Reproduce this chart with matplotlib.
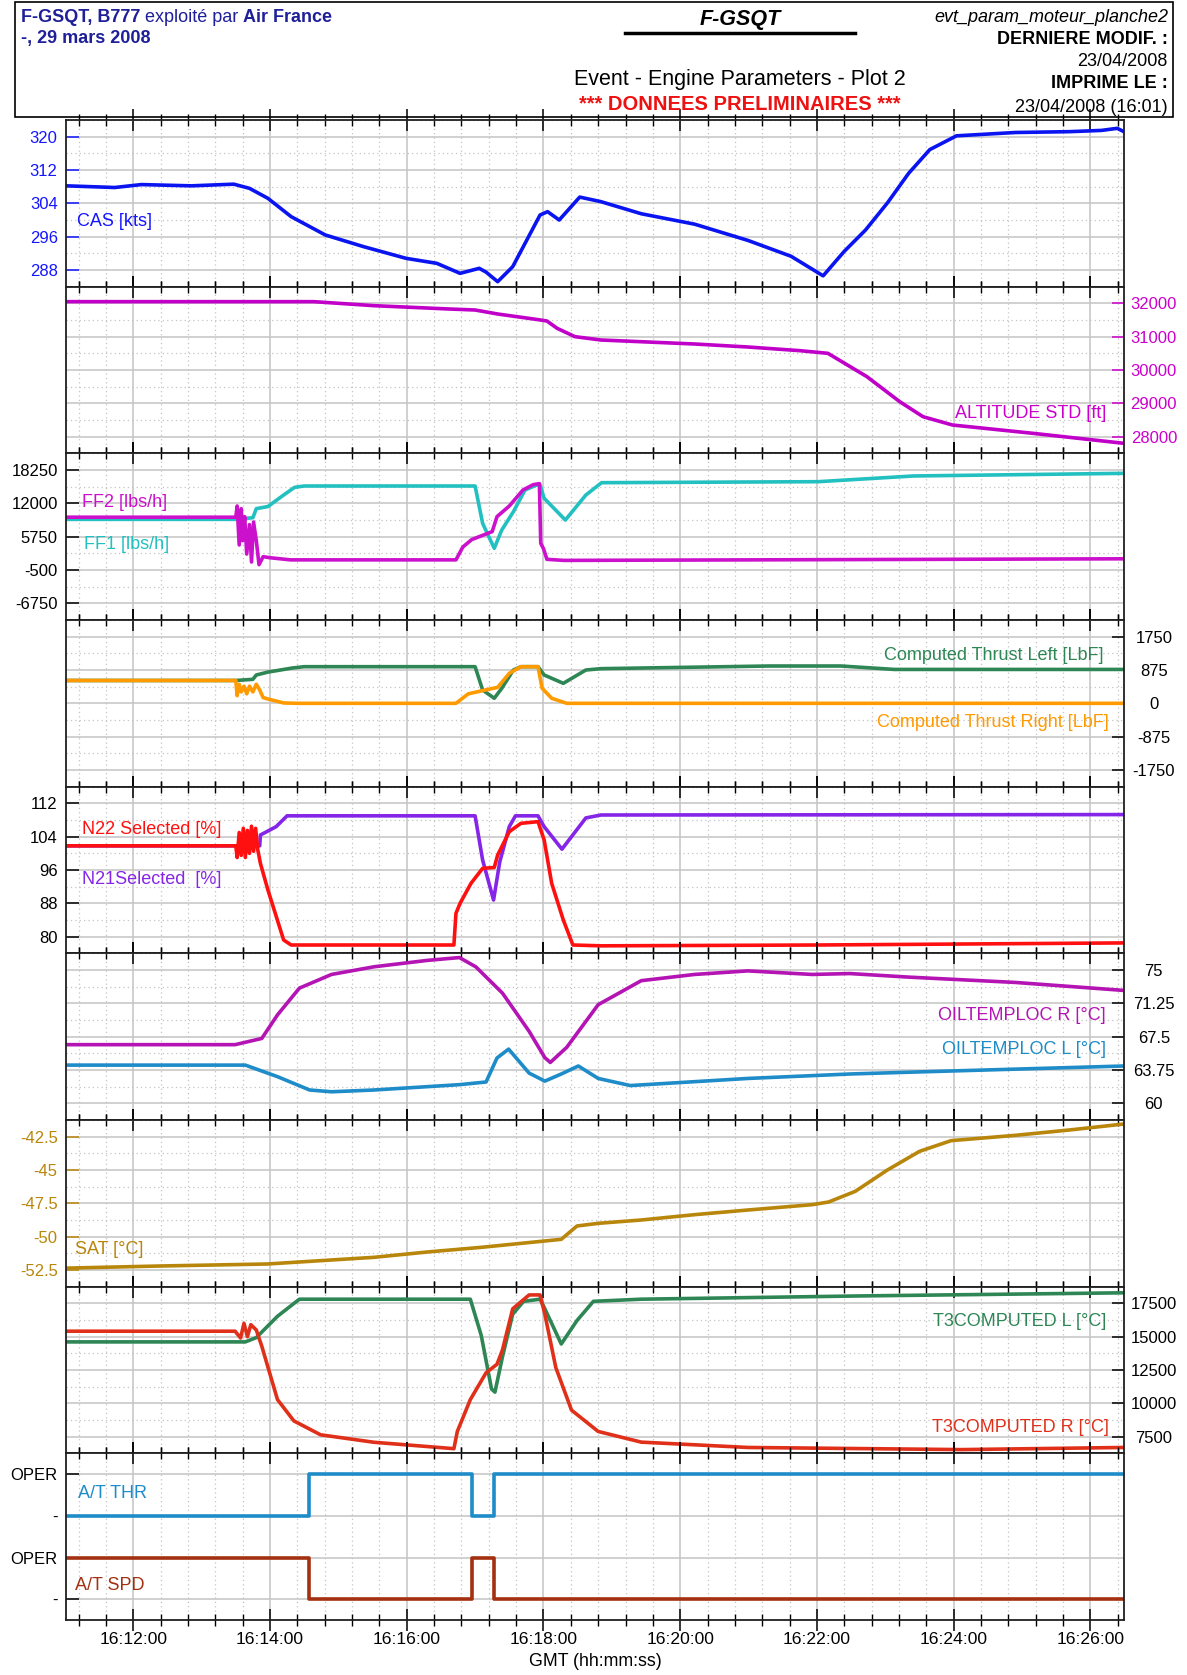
import matplotlib
matplotlib.use('Agg')
import matplotlib.pyplot as plt
from matplotlib.ticker import MultipleLocator, FuncFormatter
from matplotlib import font_manager
from matplotlib.patches import Rectangle
from matplotlib.lines import Line2D

names = {f.name for f in font_manager.fontManager.ttflist}
FONT = 'Liberation Sans' if 'Liberation Sans' in names else 'DejaVu Sans'
plt.rcParams['font.family'] = [FONT, 'DejaVu Sans']

# ---------------- data (time = minutes after 16:00 GMT) ----------------
cas_t = [11.02, 11.73, 12.12, 12.85, 13.47, 13.70, 13.97, 14.31, 14.81, 15.37, 15.99, 16.44,
         16.78, 17.06, 17.16, 17.33, 17.55, 17.95, 18.06, 18.23, 18.53, 18.84, 19.43, 20.21,
         20.99, 21.62, 22.09, 22.40, 22.71, 23.03, 23.34, 23.65, 24.04, 24.90, 25.69, 26.16,
         26.39, 26.49]
cas_v = [308.2, 307.8, 308.5, 308.2, 308.6, 307.6, 305.2, 300.8, 296.4, 293.6, 290.8, 289.6,
         287.2, 288.4, 287.5, 285.2, 288.8, 301.2, 302.0, 300.0, 305.5, 304.4, 301.5, 299.0,
         295.1, 291.3, 286.6, 292.5, 297.6, 304.1, 311.2, 316.9, 320.2, 321.0, 321.2, 321.5,
         322.0, 321.2]

alt_t = [11.02, 14.64, 15.52, 16.62, 17.00, 17.33, 17.89, 18.05, 18.20, 18.46, 18.84, 20.21,
         20.99, 21.75, 22.16, 22.73, 23.21, 23.55, 23.98, 25.16, 26.49]
alt_v = [32050, 32050, 31930, 31830, 31800, 31680, 31520, 31470, 31250, 31000, 30900, 30780,
         30690, 30580, 30500, 29800, 29050, 28600, 28350, 28100, 27800]

ff1_t = [11.02, 13.50, 13.75, 13.80, 13.97, 14.20, 14.36, 14.50, 17.00, 17.11, 17.28, 17.39,
         17.56, 17.73, 17.90, 17.95, 18.01, 18.32, 18.62, 18.85, 22.02, 23.41, 26.49]
ff1_v = [9000, 9000, 9300, 11000, 11400, 13560, 15000, 15250, 15250, 8250, 3570, 7000,
         10430, 14500, 15440, 15440, 12940, 8870, 13560, 15870, 16060, 17130, 17625]

ff2_t = [11.02, 13.50, 13.52, 13.55, 13.58, 13.60, 13.63, 13.66, 13.70, 13.73, 13.76, 13.80,
         13.84, 13.90, 14.00, 14.30, 16.72, 16.82, 16.95, 17.15, 17.25, 17.32, 17.50, 17.70,
         17.85, 17.94, 17.96, 18.00, 18.05, 18.30, 26.49]
ff2_v = [9400, 9400, 11500, 4200, 11000, 5000, 9500, 2500, 8000, 1000, 8500, 5000,
         500, 2000, 1800, 1400, 1400, 3800, 5200, 6200, 6700, 9500, 11500, 14500,
         15500, 15700, 4500, 3500, 1500, 1300, 1600]

thl_t = [11.02, 13.50, 13.75, 13.80, 13.97, 14.33, 14.50, 17.00, 17.11, 17.28, 17.39, 17.56,
         17.67, 17.92, 18.01, 18.29, 18.62, 18.84, 21.30, 22.35, 23.13, 26.49]
thl_v = [600, 600, 630, 744, 820, 928, 962, 962, 350, 133, 394, 875,
         962, 962, 744, 525, 875, 910, 980, 980, 890, 890]

thr_t = [11.02, 13.50, 13.52, 13.55, 13.58, 13.62, 13.66, 13.70, 13.75, 13.80, 13.85, 13.90,
         14.00, 14.20, 14.40, 16.72, 16.90, 17.10, 17.33, 17.50, 17.67, 17.92, 17.98, 18.12,
         18.34, 26.49]
thr_v = [600, 600, 200, 500, 300, 450, 250, 450, 300, 500, 350, 150,
         100, 10, 0, 0, 250, 330, 420, 788, 962, 962, 395, 133,
         0, 0]

n22_t = [11.02, 13.50, 13.52, 13.55, 13.58, 13.61, 13.64, 13.67, 13.70, 13.73, 13.76, 13.79,
         13.82, 13.86, 13.97, 14.20, 14.31, 16.69, 16.72, 16.78, 16.94, 17.11, 17.28, 17.33,
         17.50, 17.67, 17.92, 18.01, 18.12, 18.29, 18.43, 18.84, 22.00, 26.49]
n22_v = [101.8, 101.8, 99.0, 105.0, 99.5, 106.0, 99.0, 105.5, 100.0, 106.5, 100.5, 106.0,
         101.0, 97.6, 91.2, 79.2, 78.0, 78.0, 85.6, 88.0, 92.8, 96.4, 96.6, 99.6,
         105.2, 107.2, 107.6, 103.2, 92.8, 84.0, 78.0, 77.8, 78.0, 78.5]

n21_t = [11.02, 13.85, 13.86, 14.09, 14.25, 17.00, 17.11, 17.27, 17.36, 17.50, 17.59, 17.92,
         18.01, 18.27, 18.62, 18.84, 26.49]
n21_v = [101.8, 101.8, 104.4, 106.4, 109.0, 109.0, 98.4, 88.8, 97.9, 106.4, 109.0, 109.0,
         106.4, 101.0, 108.5, 109.2, 109.3]

oilr_t = [11.02, 13.49, 13.88, 14.11, 14.43, 14.90, 15.52, 16.30, 16.77, 17.01, 17.40, 17.79,
          18.02, 18.10, 18.34, 18.80, 19.43, 20.21, 20.99, 21.93, 22.48, 23.34, 24.90, 26.49]
oilr_v = [66.6, 66.6, 67.3, 69.95, 72.96, 74.5, 75.36, 76.08, 76.4, 75.36, 72.4, 68.1,
          65.14, 64.6, 66.3, 71.1, 73.8, 74.5, 74.9, 74.5, 74.6, 74.2, 73.6, 72.7]

oill_t = [11.02, 13.64, 14.11, 14.58, 14.90, 15.52, 16.77, 17.16, 17.32, 17.49, 17.79, 18.02,
          18.26, 18.51, 18.80, 19.27, 20.99, 22.48, 23.34, 26.49]
oill_v = [64.3, 64.3, 63.0, 61.5, 61.3, 61.5, 62.1, 62.4, 65.1, 66.1, 63.4, 62.5,
          63.3, 64.2, 62.8, 62.0, 62.8, 63.3, 63.5, 64.2]

sat_t = [11.02, 12.39, 13.96, 14.74, 15.52, 16.30, 17.09, 17.87, 18.26, 18.49, 18.80, 19.43,
         20.21, 20.99, 21.93, 22.17, 22.56, 23.03, 23.50, 23.96, 24.90, 25.69, 26.49]
sat_v = [-52.36, -52.2, -52.05, -51.8, -51.55, -51.15, -50.8, -50.4, -50.2, -49.2, -49.0, -48.75,
         -48.35, -48.0, -47.6, -47.4, -46.6, -45.0, -43.6, -42.8, -42.4, -42.0, -41.55]

t3l_t = [11.02, 13.64, 13.80, 14.11, 14.43, 16.93, 17.09, 17.24, 17.29, 17.40, 17.55, 17.71,
         17.95, 18.02, 18.26, 18.49, 18.73, 19.43, 22.56, 26.49]
t3l_v = [14608, 14608, 14930, 16530, 17810, 17810, 15090, 11080, 10840, 13480, 16690, 17650,
         17810, 17090, 14450, 16210, 17650, 17810, 18050, 18290]

t3r_t = [11.02, 13.49, 13.57, 13.62, 13.67, 13.72, 13.80, 13.88, 14.11, 14.35, 14.74, 15.52,
         16.69, 16.74, 16.93, 17.16, 17.32, 17.40, 17.55, 17.79, 17.95, 18.02, 18.18, 18.41,
         18.80, 19.43, 20.99, 24.12, 26.49]
t3r_v = [15410, 15410, 14900, 16000, 15000, 15900, 15500, 14290, 10280, 8680, 7640, 7080,
         6600, 7890, 10280, 12290, 12930, 14000, 17090, 18130, 18130, 16690, 12690, 9490,
         7890, 7090, 6690, 6530, 6690]

at_t = [11.02, 14.57, 16.95, 17.27, 26.49]
at_thr = [0, 1, 0, 1, 1]
at_spd = [1, 0, 1, 0, 0]

x_ticks_major = [12, 14, 16, 18, 20, 22, 24, 26]

# ---------------- layout ----------------
W, H = 1187, 1675
fig = plt.figure(figsize=(W / 100, H / 100), dpi=100)
LEFT, RIGHT, TOP = 66, 1124, 120
PH = 1500 / 9
T0, T1 = 11.017, 26.49
FS = 12        # tick labels
FL = 13        # in-panel labels
NAVY = '#1f1f99'
GRID = '#c4c4c4'


def fx(x):
    return x / W


def fy(y):
    return 1 - y / H


def ftext(x, y, s, **kw):
    return fig.text(fx(x), fy(y), s, **kw)


def fmt_time(m, pos=None):
    sec = int(round(m * 60))
    return "16:%02d:%02d" % (sec // 60, sec % 60)


axes = []
for i in range(9):
    ax = fig.add_axes([fx(LEFT), fy(TOP + (i + 1) * PH), (RIGHT - LEFT) / W, PH / H])
    ax.set_xlim(T0, T1)
    ax.set_xticks(x_ticks_major)
    ax.xaxis.set_minor_locator(MultipleLocator(0.4))
    ax.xaxis.set_major_formatter(FuncFormatter(fmt_time))
    ax.tick_params(axis='x', which='major', direction='inout', length=16, width=1.1,
                   top=True, bottom=True, labelbottom=(i == 8), labelsize=12.6, pad=1)
    ax.tick_params(axis='x', which='minor', direction='inout', length=8, width=1.0,
                   top=True, bottom=True)
    ax.grid(which='major', axis='x', color=GRID, lw=1.1, ls='-')
    ax.grid(which='minor', axis='x', color=GRID, lw=0.9, ls=(0, (1, 2.5)))
    ax.set_axisbelow(True)
    for sp in ax.spines.values():
        sp.set_linewidth(1.3)
        sp.set_color('#202020')
    axes.append(ax)


def setup_y(ax, lo, hi, ticks, labels, side, color, half=True):
    ax.set_ylim(lo, hi)
    ax.set_yticks(ticks)
    ax.set_yticklabels(labels)
    if half:
        step = ticks[1] - ticks[0]
        ax.set_yticks([t + step / 2 for t in ticks] + [ticks[0] - step / 2], minor=True)
    ax.tick_params(axis='y', which='minor', length=0, left=False, right=False)
    ax.grid(which='major', axis='y', color=GRID, lw=1.1, ls='-')
    ax.grid(which='minor', axis='y', color=GRID, lw=0.9, ls=(0, (1, 2.5)))
    if side == 'left':
        ax.tick_params(axis='y', which='major', direction='in', length=9, width=1.1,
                       colors=color, labelsize=FS, pad=6, left=True, right=False)
    else:
        ax.yaxis.tick_right()
        ax.tick_params(axis='y', which='major', direction='in', length=9, width=1.1,
                       colors=color, labelsize=FS, pad=21.5, left=False, right=True)
        for lab in ax.get_yticklabels():
            lab.set_horizontalalignment('center')


LW = 2.6
# 1 CAS
ax = axes[0]
setup_y(ax, 284, 324, [288, 296, 304, 312, 320], ['288', '296', '304', '312', '320'], 'left', '#1515ff')
ax.plot(cas_t, cas_v, color='#0a14f0', lw=LW)
# 2 Altitude
ax = axes[1]
setup_y(ax, 27500, 32500, [28000, 29000, 30000, 31000, 32000],
        ['28000', '29000', '30000', '31000', '32000'], 'right', '#cc00cc')
ax.plot(alt_t, alt_v, color='#c000c8', lw=LW)
# 3 FF
ax = axes[2]
setup_y(ax, -9875, 21375, [-6750, -500, 5750, 12000, 18250],
        ['-6750', '-500', '5750', '12000', '18250'], 'left', 'black')
ax.plot(ff1_t, ff1_v, color='#22c0c0', lw=LW)
ax.plot(ff2_t, ff2_v, color='#cc11cc', lw=LW)
# 4 Thrust
ax = axes[3]
setup_y(ax, -2187.5, 2187.5, [-1750, -875, 0, 875, 1750],
        ['-1750', '-875', '0', '875', '1750'], 'right', 'black')
ax.plot(thl_t, thl_v, color='#2e8655', lw=LW)
ax.plot(thr_t, thr_v, color='#ff9a00', lw=LW)
# 5 N2
ax = axes[4]
setup_y(ax, 76, 116, [80, 88, 96, 104, 112], ['80', '88', '96', '104', '112'], 'left', 'black')
ax.plot(n21_t, n21_v, color='#8525e8', lw=LW)
ax.plot(n22_t, n22_v, color='#ff1010', lw=LW)
# 6 Oil temp
ax = axes[5]
setup_y(ax, 58.125, 76.875, [60, 63.75, 67.5, 71.25, 75],
        ['60', '63.75', '67.5', '71.25', '75'], 'right', 'black')
ax.plot(oilr_t, oilr_v, color='#b414b4', lw=LW)
ax.plot(oill_t, oill_v, color='#1e8cc8', lw=LW)
# 7 SAT
ax = axes[6]
setup_y(ax, -53.75, -41.25, [-52.5, -50, -47.5, -45, -42.5],
        ['-52.5', '-50', '-47.5', '-45', '-42.5'], 'left', '#b8860b')
ax.plot(sat_t, sat_v, color='#b8860b', lw=LW)
# 8 T3
ax = axes[7]
setup_y(ax, 6250, 18750, [7500, 10000, 12500, 15000, 17500],
        ['7500', '10000', '12500', '15000', '17500'], 'right', 'black')
ax.plot(t3l_t, t3l_v, color='#2e8655', lw=LW)
ax.plot(t3r_t, t3r_v, color='#e0301a', lw=LW)
# 9 A/T discretes
ax = axes[8]
setup_y(ax, 0, 4, [0.5, 1.5, 2.5, 3.5], ['-', 'OPER', '-', 'OPER'], 'left', 'black', half=False)
ax.plot(at_t, [2.5 + v for v in at_thr], color='#1e8cc8', lw=LW, drawstyle='steps-post')
ax.plot(at_t, [0.5 + v for v in at_spd], color='#a33010', lw=LW, drawstyle='steps-post')

ftext((LEFT + RIGHT) / 2, 1661, 'GMT (hh:mm:ss)', ha='center', va='center', fontsize=12.8)

# ---------------- in-panel labels ----------------
ftext(77, 221, 'CAS [kts]', color='#1515ff', fontsize=FL, va='center')
ftext(1106, 414, 'ALTITUDE STD [ft]', color='#cc00cc', fontsize=FL, va='center', ha='right')
ftext(82, 503, 'FF2 [lbs/h]', color='#cc11cc', fontsize=FL, va='center')
ftext(84, 545, 'FF1 [lbs/h]', color='#22c0c0', fontsize=FL, va='center')
ftext(1103, 656, 'Computed Thrust Left [LbF]', color='#2e8655', fontsize=FL, va='center', ha='right')
ftext(1109, 723, 'Computed Thrust Right [LbF]', color='#ff9a00', fontsize=FL, va='center', ha='right')
ftext(82, 830, 'N22 Selected [%]', color='#ff1010', fontsize=FL, va='center')
ftext(82, 879, 'N21Selected  [%]', color='#8525e8', fontsize=FL, va='center')
ftext(1106, 1015, 'OILTEMPLOC R [°C]', color='#b414b4', fontsize=FL, va='center', ha='right')
ftext(1106, 1049, 'OILTEMPLOC L [°C]', color='#1e8cc8', fontsize=FL, va='center', ha='right')
ftext(75, 1250, 'SAT [°C]', color='#b8860b', fontsize=FL, va='center')
ftext(1106, 1321, 'T3COMPUTED L [°C]', color='#2e8655', fontsize=FL, va='center', ha='right')
ftext(1109, 1428, 'T3COMPUTED R [°C]', color='#e0301a', fontsize=FL, va='center', ha='right')
ftext(78, 1494, 'A/T THR', color='#1e8cc8', fontsize=FL, va='center')
ftext(75, 1585, 'A/T SPD', color='#a33010', fontsize=FL, va='center')

# ---------------- header ----------------
fig.add_artist(Rectangle((fx(15), fy(117)), (1173 - 15) / W, 115 / H, transform=fig.transFigure,
                         fill=False, lw=1.2, ec='black'))
r = fig.canvas.get_renderer()
x = 21
for s, w in [('F-GSQT, B777', 'bold'), ('exploité par', 'normal'), ('Air France', 'bold')]:
    t = ftext(x, 17, s, color=NAVY, fontsize=13, weight=w, va='center')
    x = t.get_window_extent(r).x1 + 4.5
ftext(21, 38, '-, 29 mars 2008', color=NAVY, fontsize=13, weight='bold', va='center')
ftext(740, 19, 'F-GSQT', fontsize=15.5, weight='bold', style='italic', ha='center', va='center')
fig.add_artist(Line2D([fx(625), fx(855)], [fy(33), fy(33)], transform=fig.transFigure,
                      lw=2.5, color='black'))
ftext(740, 79, 'Event - Engine Parameters - Plot 2', fontsize=15.5, ha='center', va='center')
ftext(740, 104, '*** DONNEES PRELIMINAIRES ***', fontsize=14.5, weight='bold', color='#ee1111',
      ha='center', va='center')
ftext(1168, 17, 'evt_param_moteur_planche2', fontsize=13, style='italic', ha='right', va='center')
ftext(1168, 40, 'DERNIERE MODIF. :', fontsize=13, weight='bold', ha='right', va='center')
ftext(1168, 61, '23/04/2008', fontsize=13, ha='right', va='center')
ftext(1168, 83, 'IMPRIME LE :', fontsize=13, weight='bold', ha='right', va='center')
ftext(1168, 107, '23/04/2008 (16:01)', fontsize=13, ha='right', va='center')

fig.savefig('out.png', dpi=100)
